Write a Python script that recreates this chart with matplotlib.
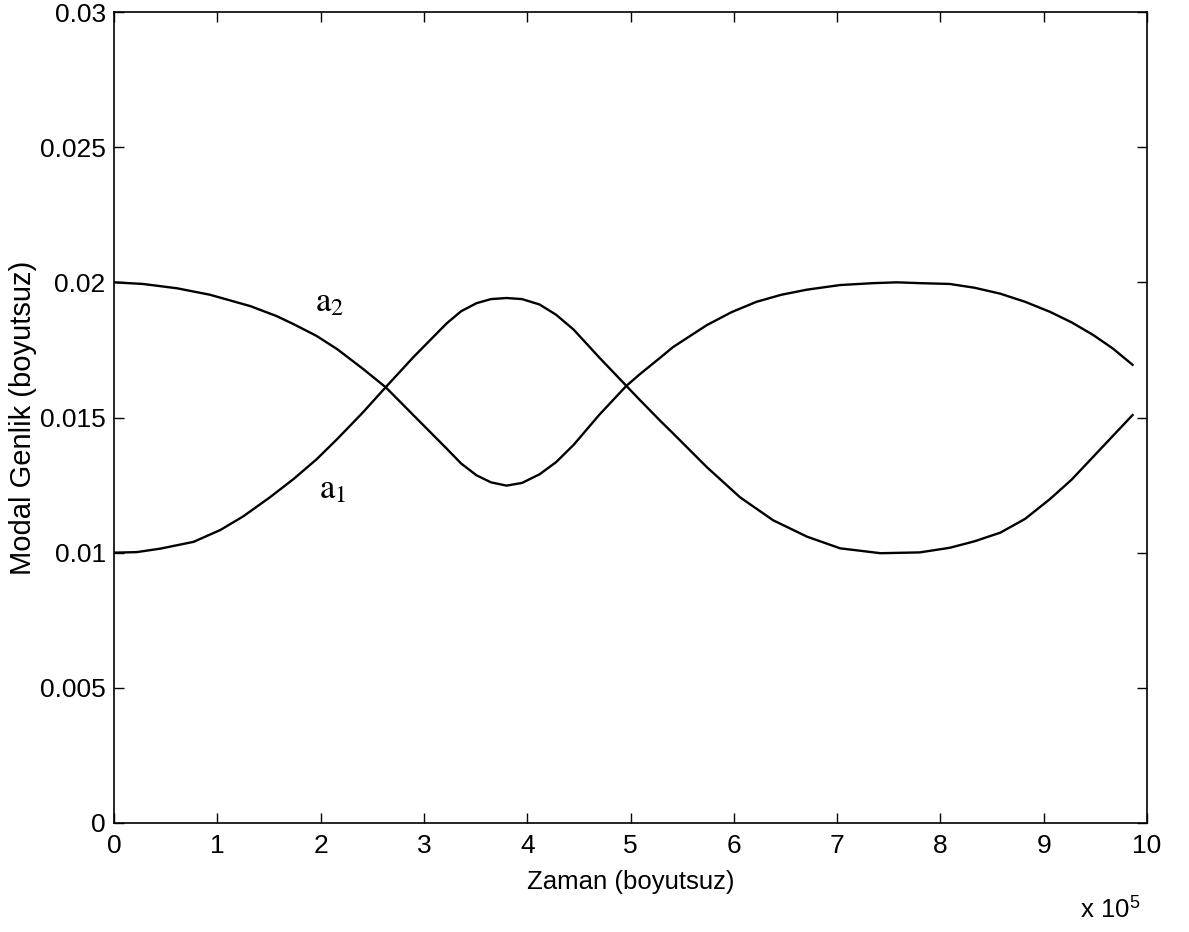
import matplotlib
matplotlib.use("Agg")
import matplotlib.pyplot as plt
from matplotlib.ticker import FuncFormatter

plt.rcParams['font.family'] = ['Liberation Sans', 'DejaVu Sans']
plt.rcParams['mathtext.fontset'] = 'stix'

# time in units of 1e5, amplitudes in units of 1e-3
t1 = [0, 0.22, 0.45, 0.77, 1.03, 1.25, 1.51, 1.74, 1.96, 2.16, 2.41, 2.63, 2.90, 3.22,
      3.36, 3.51, 3.65, 3.80, 3.95, 4.12, 4.28, 4.45, 4.70, 4.96, 5.09, 5.29, 5.41, 5.74,
      6.06, 6.38, 6.71, 7.03, 7.42, 7.80, 8.09, 8.33, 8.58, 8.82, 9.06, 9.27, 9.48, 9.67,
      9.86]
a1 = [10.0, 10.02, 10.15, 10.40, 10.84, 11.34, 12.05, 12.73, 13.45, 14.20, 15.19, 16.12,
      17.24, 18.48, 18.93, 19.23, 19.38, 19.42, 19.38, 19.18, 18.80, 18.25, 17.21, 16.17,
      15.65, 14.87, 14.42, 13.16, 12.05, 11.20, 10.59, 10.16, 9.98, 10.01, 10.18, 10.42,
      10.74, 11.25, 11.98, 12.70, 13.55, 14.32, 15.09]

t2 = [0, 0.28, 0.61, 0.93, 1.32, 1.575, 1.74, 1.96, 2.16, 2.41, 2.63, 2.90, 3.22, 3.36,
      3.51, 3.65, 3.80, 3.95, 4.12, 4.28, 4.45, 4.70, 4.96, 5.09, 5.29, 5.41, 5.74, 5.98,
      6.22, 6.46, 6.71, 7.03, 7.35, 7.58, 7.80, 8.09, 8.33, 8.58, 8.82, 9.06, 9.27, 9.48,
      9.67, 9.86]
a2 = [20.0, 19.94, 19.78, 19.54, 19.12, 18.75, 18.45, 18.02, 17.53, 16.80, 16.12, 15.08,
      13.85, 13.30, 12.86, 12.60, 12.48, 12.58, 12.90, 13.35, 13.99, 15.11, 16.17, 16.60,
      17.22, 17.60, 18.42, 18.90, 19.28, 19.54, 19.73, 19.90, 19.97, 20.0, 19.97, 19.94,
      19.80, 19.58, 19.28, 18.91, 18.52, 18.05, 17.55, 16.95]

yticks = [0, 0.005, 0.01, 0.015, 0.02, 0.025, 0.03]
xticks = list(range(11))

fig = plt.figure(figsize=(11.89, 9.32), dpi=100)
ax = fig.add_axes([114 / 1189, 109 / 932, 1033 / 1189, 811 / 932])

ax.plot(t1, [v * 1e-3 for v in a1], color='black', lw=1.7)
ax.plot(t2, [v * 1e-3 for v in a2], color='black', lw=1.7)

ax.text(2.09, 0.0193, r'$\mathrm{a}_2$', fontsize=25, ha='center', va='center')
ax.text(2.12, 0.01235, r'$\mathrm{a}_1$', fontsize=25, ha='center', va='center')

ax.set_xlim(0, 10)
ax.set_ylim(0, 0.03)
ax.set_xticks(xticks)
ax.set_yticks(yticks)
ax.yaxis.set_major_formatter(FuncFormatter(lambda v, p: '%g' % v))
ax.tick_params(direction='in', top=True, right=True, length=7, width=1.0,
               labelsize=19)
ax.tick_params(axis='x', pad=8)
ax.tick_params(axis='y', pad=6)
for s in ax.spines.values():
    s.set_linewidth(1.2)

ax.set_xlabel('Zaman (boyutsuz)', fontsize=18.5)
ax.set_ylabel('Modal Genlik (boyutsuz)', fontsize=21)
ax.xaxis.set_label_coords(0.5, -0.058)
ax.yaxis.set_label_coords(-0.075, 0.5)

fig.text(1140 / 1189, 1 - 918 / 932, r'x 10$^{\mathregular{5}}$', fontsize=18.5,
         ha='right', va='baseline')

fig.savefig('out.png', dpi=100)
